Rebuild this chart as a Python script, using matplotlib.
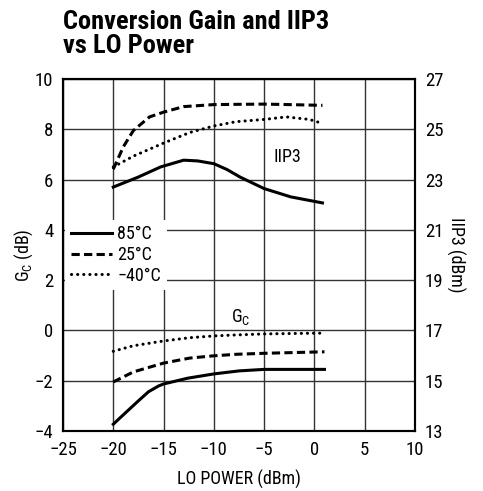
import matplotlib
matplotlib.use("Agg")
import matplotlib.pyplot as plt
from matplotlib import font_manager

# pick a condensed sans-serif if one is installed
fam = 'Liberation Sans'
stretch = 'normal'
ttf = font_manager.fontManager.ttflist
named = [f.name for f in ttf if ('Narrow' in f.name or 'Condensed' in f.name)]
pref = [n for n in named if 'Liberation' in n] + [n for n in named if 'Roboto' in n] + named
if pref:
    fam = pref[0]
else:
    cond = [f for f in ttf if str(f.stretch) in ('condensed', 'semi-condensed', '300', '400')]
    if cond:
        fam = cond[0].name
        stretch = 'condensed'
plt.rcParams['font.family'] = [fam, 'DejaVu Sans']
plt.rcParams['font.stretch'] = stretch

# IIP3 (dBm) vs LO power
lo_iip3_85 = [-20, -17.5, -15.3, -13, -11.6, -10, -8.7, -7.4, -5, -2.35, 0.8]
iip3_85 = [22.7, 23.1, 23.5, 23.77, 23.74, 23.63, 23.4, 23.1, 22.64, 22.31, 22.07]
lo_iip3_25 = [-20, -19, -18, -16.4, -15, -13, -10, -7.8, -5, -2.5, 0.8]
iip3_25 = [23.41, 24.3, 24.95, 25.49, 25.68, 25.9, 25.98, 25.99, 26.0, 25.98, 25.95]
lo_iip3_m40 = [-20, -18, -15, -12.4, -10, -7.8, -5, -2.8, -0.5, 0.8]
iip3_m40 = [23.5, 23.93, 24.45, 24.87, 25.13, 25.3, 25.39, 25.49, 25.39, 25.23]

# Conversion gain (dB) vs LO power
lo_gc_85 = [-20, -18.85, -17.5, -16.5, -15.5, -15, -12.6, -10, -7.5, -5, 0, 1]
gc_85 = [-3.73, -3.3, -2.8, -2.44, -2.21, -2.13, -1.9, -1.73, -1.61, -1.55, -1.55, -1.55]
lo_gc_25 = [-20, -18, -15, -12.4, -10, -7.8, -5, 0, 1]
gc_25 = [-2.05, -1.65, -1.3, -1.1, -1.01, -0.95, -0.91, -0.86, -0.85]
lo_gc_m40 = [-20, -18, -15, -12.4, -10, -7.8, -5, 0, 0.8]
gc_m40 = [-0.83, -0.61, -0.42, -0.29, -0.22, -0.18, -0.14, -0.11, -0.11]

labels = ['85°C', '25°C', '\u221240°C']
xticks = [-25, -20, -15, -10, -5, 0, 5, 10]
yticks_l = [-4, -2, 0, 2, 4, 6, 8, 10]
yticks_r = [13, 15, 17, 19, 21, 23, 25, 27]

fig = plt.figure(figsize=(4.83, 4.91), dpi=100)
ax = fig.add_axes([0.1304, 0.1222, 0.7288, 0.717])
ax2 = ax.twinx()

lw = 2.2
styles = [dict(linestyle='-'),
          dict(linestyle=(0, (2.7, 1.4))),
          dict(linestyle=(0, (0.05, 1.95)), dash_capstyle='round')]

h1, = ax.plot(lo_gc_85, gc_85, color='black', lw=lw, **styles[0])
h2, = ax.plot(lo_gc_25, gc_25, color='black', lw=lw, **styles[1])
h3, = ax.plot(lo_gc_m40, gc_m40, color='black', lw=lw, **styles[2])
ax2.plot(lo_iip3_85, iip3_85, color='black', lw=lw, **styles[0])
ax2.plot(lo_iip3_25, iip3_25, color='black', lw=lw, **styles[1])
ax2.plot(lo_iip3_m40, iip3_m40, color='black', lw=lw, **styles[2])

ax.set_xlim(-25, 10)
ax.set_ylim(-4, 10)
ax2.set_ylim(13, 27)
ax.set_xticks(xticks)
ax.set_yticks(yticks_l)
ax2.set_yticks(yticks_r)
ax.grid(True, color='#333333', lw=1.0)
ax.set_axisbelow(True)
for a in (ax, ax2):
    a.tick_params(length=0, labelsize=13.5, pad=7)
    for s in a.spines.values():
        s.set_linewidth(1.5)

ax.set_xlabel('LO POWER (dBm)', fontsize=13, labelpad=8)
ax.set_ylabel('G$_\\mathregular{C}$ (dB)', fontsize=13, labelpad=0)
ax2.set_ylabel('IIP3 (dBm)', fontsize=13, rotation=270, labelpad=16)

ax2.text(-2.7, 6.9 + 17, 'IIP3', fontsize=13, ha='center', va='center')
ax.text(-7.3, 0.55, 'G$_\\mathregular{C}$', fontsize=13, ha='center', va='center')

leg = ax2.legend([h1, h2, h3], labels, loc='upper left', bbox_to_anchor=(0.006, 0.6),
                 borderaxespad=0, frameon=True, fontsize=13, handlelength=2.3,
                 handletextpad=0.3, labelspacing=0.15, borderpad=0.3)
leg.get_frame().set_edgecolor('none')
leg.get_frame().set_facecolor('white')
leg.get_frame().set_alpha(1)
leg.get_frame().set_boxstyle('square', pad=0)

fig.text(0.1304, 0.98, 'Conversion Gain and IIP3\nvs LO Power', fontsize=19,
         fontweight='bold', ha='left', va='top', linespacing=1.0)

fig.savefig('out.png', dpi=100)
